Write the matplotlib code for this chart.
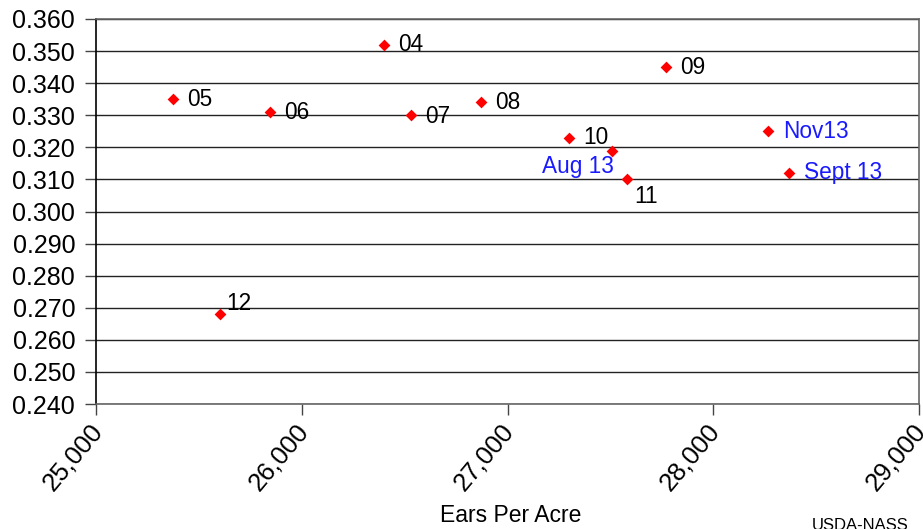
import matplotlib
matplotlib.use("Agg")
import matplotlib.pyplot as plt
import matplotlib.transforms as mtransforms
from matplotlib.ticker import FuncFormatter, MultipleLocator

plt.rcParams['font.family'] = ['Liberation Sans', 'DejaVu Sans']

labels = ["04", "05", "06", "07", "08", "09", "10", "11", "12", "Aug 13", "Sept 13", "Nov13"]
ears = [26400, 25374, 25846, 26531, 26871, 27770, 27299, 27581, 25603, 27508, 28368, 28266]
weight = [0.352, 0.335, 0.331, 0.330, 0.334, 0.345, 0.323, 0.310, 0.268, 0.319, 0.312, 0.325]
label_colors = ["black"] * 9 + ["#1a1aff"] * 3
# label offsets in pixels (dx, dy) and alignment
offsets = {
    "04": (14, 0, 'left'), "05": (14, 0, 'left'), "06": (14, 0, 'left'),
    "07": (14, -1, 'left'), "08": (14, 0, 'left'), "09": (14, 0, 'left'),
    "10": (14, 0, 'left'), "11": (7, -17, 'left'), "12": (6, 11, 'left'),
    "Aug 13": (2, -16, 'right'), "Sept 13": (15, 0, 'left'), "Nov13": (15, 0, 'left'),
}

fig = plt.figure(figsize=(9.23, 5.29), dpi=100)
ax = fig.add_axes([96/923, 1-404/529, (919-96)/923, (404-19)/529])

ax.scatter(ears, weight, marker='D', s=36, color='#ff0000', zorder=3, linewidths=0)
for lab, x, y, c in zip(labels, ears, weight, label_colors):
    dx, dy, ha = offsets[lab]
    ax.annotate(lab, (x, y), xytext=(dx, dy), textcoords='offset pixels',
                ha=ha, va='center', fontsize=16.3, color=c, zorder=4)

ax.set_xlim(25000, 29000)
ax.set_ylim(0.240, 0.360)
ax.xaxis.set_major_locator(MultipleLocator(1000))
ax.yaxis.set_major_locator(MultipleLocator(0.010))
ax.xaxis.set_major_formatter(FuncFormatter(lambda v, p: f"{int(round(v)):,}"))
ax.yaxis.set_major_formatter(FuncFormatter(lambda v, p: f"{v:.3f}"))
ax.grid(axis='y', color='#222222', linewidth=1.0)
ax.set_axisbelow(True)

ax.tick_params(axis='y', direction='out', length=8, width=1, labelsize=18, pad=7, color='#444444')
ax.tick_params(axis='x', direction='out', length=8, width=1, labelsize=18.5, pad=3, color='#444444')
shift = mtransforms.ScaledTranslation(-7/100, 0, fig.dpi_scale_trans)
for t in ax.get_xticklabels():
    t.set_rotation(50)
    t.set_ha('right')
    t.set_va('top')
    t.set_rotation_mode('anchor')
    t.set_transform(t.get_transform() + shift)

ax.spines['left'].set_color('black')
ax.spines['bottom'].set_color('#666666')
ax.spines['top'].set_color('#666666')
ax.spines['right'].set_color('#666666')
for s in ax.spines.values():
    s.set_linewidth(1.2)

fig.text(511/923, 1-516/529, "Ears Per Acre", ha='center', va='center', fontsize=16.5)
fig.text(812/923, 1-518/529, "USDA-NASS", ha='left', va='top', fontsize=12)

fig.savefig("out.png", dpi=100)
